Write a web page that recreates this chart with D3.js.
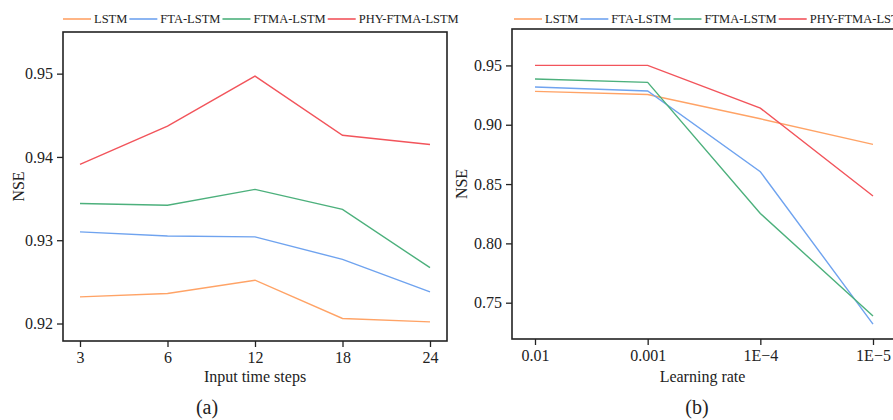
<!DOCTYPE html>
<html><head><meta charset="utf-8">
<script src="https://cdn.jsdelivr.net/npm/d3@7"></script>
<style>body{margin:0;background:#fff}svg{display:block}text{font-family:"Liberation Serif","Times New Roman",serif;fill:#222}</style>
</head><body>
<svg id="c" width="893" height="420"></svg>
<script>
const seriesNames = ["LSTM","FTA-LSTM","FTMA-LSTM","PHY-FTMA-LSTM"];
const colors = ["#FFA366","#6FA3EF","#4CB07C","#F2545B"];

const stepsCats = ["3","6","12","18","24"];
const stepsLSTM = [0.9232,0.9236,0.9252,0.9206,0.9202];
const stepsFTA  = [0.9310,0.9305,0.9304,0.9277,0.9238];
const stepsFTMA = [0.9344,0.9342,0.9361,0.9337,0.9267];
const stepsPHY  = [0.9391,0.9437,0.9497,0.9426,0.9415];
const stepsTicks = [0.92,0.93,0.94,0.95];

const lrCats = ["0.01","0.001","1E\u22124","1E\u22125"];
const lrLSTM = [0.9281,0.9255,0.9050,0.8835];
const lrFTA  = [0.9318,0.9284,0.8604,0.7320];
const lrFTMA = [0.9385,0.9357,0.8252,0.7388];
const lrPHY  = [0.9500,0.9500,0.9140,0.8399];
const lrTicks = [0.75,0.80,0.85,0.90,0.95];

const svg = d3.select("#c");

function panel(o){
  const g = svg.append("g");
  const x = d3.scalePoint().domain(o.cats).range([o.x0+o.pad, o.x1-o.pad]);
  const y = d3.scaleLinear().domain(o.ydom).range([o.y1, o.y0]);
  // lines
  const line = d3.line().x((d,i)=>x(o.cats[i])).y(d=>y(d));
  o.series.forEach((s,k)=>{
    g.append("path").attr("d", line(s)).attr("fill","none")
      .attr("stroke", colors[k]).attr("stroke-width",1.4);
  });
  // frame
  g.append("rect").attr("x",o.x0).attr("y",o.y0).attr("width",o.x1-o.x0).attr("height",o.y1-o.y0)
    .attr("fill","none").attr("stroke","#222").attr("stroke-width",1.6);
  // axes
  const xa = g.append("g").attr("transform",`translate(0,${o.y1})`)
    .call(d3.axisBottom(x).tickSize(6).tickPadding(5));
  const ya = g.append("g").attr("transform",`translate(${o.x0},0)`)
    .call(d3.axisLeft(y).tickValues(o.yticks).tickFormat(d3.format(o.fmt)).tickSize(6).tickPadding(4));
  [xa,ya].forEach(a=>{
    a.select(".domain").remove();
    a.selectAll(".tick line").attr("stroke","#222").attr("stroke-width",1.3);
    a.selectAll(".tick text").style("font-family",'"Liberation Serif",serif').style("font-size","16px").attr("fill","#222");
  });
  // titles
  g.append("text").attr("x",(o.x0+o.x1c)/2).attr("y",382).attr("text-anchor","middle")
    .style("font-size","16px").text(o.xlabel);
  g.append("text").attr("transform",`translate(${o.ylx},${(o.y0+o.y1)/2}) rotate(-90)`)
    .attr("text-anchor","middle").attr("dy","0.35em").style("font-size","16px").text("NSE");
  g.append("text").attr("x",o.capx).attr("y",414).attr("text-anchor","middle")
    .style("font-size","20px").text(o.cap);
  // legend
  let lx = o.legx;
  const ly = 19;
  seriesNames.forEach((n,k)=>{
    g.append("line").attr("x1",lx).attr("x2",lx+28).attr("y1",ly).attr("y2",ly)
      .attr("stroke",colors[k]).attr("stroke-width",1.6);
    const t = g.append("text").attr("x",lx+31).attr("y",ly).attr("dy","0.35em")
      .style("font-size","12.5px").text(n);
    lx += 31 + t.node().getComputedTextLength() + 2;
  });
}

panel({cats:stepsCats, series:[stepsLSTM,stepsFTA,stepsFTMA,stepsPHY],
  x0:63, x1:447, x1c:447, pad:17, y0:32, y1:341, ydom:[0.9179,0.955], yticks:stepsTicks, fmt:".2f",
  xlabel:"Input time steps", ylx:18, cap:"(a)", capx:207, legx:63});
panel({cats:lrCats, series:[lrLSTM,lrFTA,lrFTMA,lrPHY],
  x0:512, x1:896, x1c:893, pad:23, y0:29, y1:339, ydom:[0.7194,0.9807], yticks:lrTicks, fmt:".2f",
  xlabel:"Learning rate", ylx:461, cap:"(b)", capx:697, legx:514});
</script>
</body></html>
